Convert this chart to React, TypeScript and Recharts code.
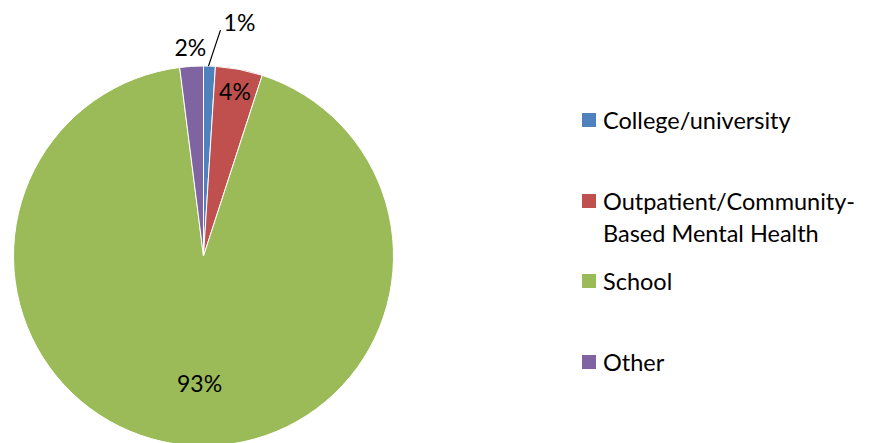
import React from "react";
import { PieChart, Pie, Cell, Legend } from "recharts";

const categories = ["College/university", "Outpatient/Community-Based Mental Health", "School", "Other"];
const legendLines = [["College/university"], ["Outpatient/Community-", "Based Mental Health"], ["School"], ["Other"]];
const values = [1, 4, 93, 2];
const labels = ["1%", "4%", "93%", "2%"];
const colors = ["#4F81BD", "#C0504D", "#9BBB59", "#8064A2"];

// label placement: radius factor + pixel offsets
const labelPlacement = [
  { rf: 1.0, dx: 30, dy: -44, line: true },
  { rf: 0.885, dx: 0, dy: 0, line: false },
  { rf: 0.67, dx: 8, dy: 0, line: false },
  { rf: 1.1, dx: 0, dy: 0, line: false },
];

const data = categories.map((name, i) => ({ name, value: values[i], label: labels[i] }));

const FONT = "Lato, 'Open Sans', sans-serif";
const RAD = Math.PI / 180;

const renderLabel = (props: any) => {
  const { cx, cy, midAngle, outerRadius, index } = props;
  const p = labelPlacement[index];
  const r = outerRadius * p.rf;
  const x0 = cx + r * Math.cos(-midAngle * RAD);
  const y0 = cy + r * Math.sin(-midAngle * RAD);
  const tx = x0 + p.dx;
  const ty = y0 + p.dy;
  return (
    <g key={`lbl-${index}`}>
      {p.line && (
        <line x1={x0 - 1} y1={y0} x2={x0 + 11} y2={y0 - 36} stroke="#000" strokeWidth={1.2} />
      )}
      <text
        x={tx}
        y={ty}
        textAnchor="middle"
        dominantBaseline="central"
        fill="#000"
        fontFamily={FONT}
        fontSize={23}
      >
        {labels[index]}
      </text>
    </g>
  );
};

const renderLegend = () => (
  <div style={{ position: "relative", width: 287, height: 300, fontFamily: FONT }}>
    {legendLines.map((lines, i) => (
      <div
        key={categories[i]}
        style={{ position: "absolute", left: 0, top: i * 80.5, display: "flex", alignItems: "flex-start" }}
      >
        <div style={{ width: 14, height: 14, background: colors[i], marginTop: 9, marginRight: 7, flex: "none" }} />
        <div style={{ fontSize: 23.5, lineHeight: "32px", color: "#000", whiteSpace: "nowrap" }}>
          {lines.map((t) => (
            <div key={t}>{t}</div>
          ))}
        </div>
      </div>
    ))}
  </div>
);

export default function App() {
  return (
    <div style={{ position: "absolute", left: 0, top: 0, width: 869, height: 443, background: "#fff" }}>
      <PieChart width={869} height={443} margin={{ top: 0, right: 0, bottom: 0, left: 0 }}>
        <Pie
          data={data}
          dataKey="value"
          nameKey="name"
          cx={203.5}
          cy={256}
          outerRadius={190}
          startAngle={90}
          endAngle={-270}
          stroke="#fff"
          strokeWidth={1}
          label={renderLabel}
          labelLine={false}
          isAnimationActive={false}
        >
          {data.map((d, i) => (
            <Cell key={d.name} fill={colors[i]} />
          ))}
        </Pie>
        <Legend
          content={renderLegend}
          wrapperStyle={{ position: "absolute", left: 582, top: 104, width: 287 }}
        />
      </PieChart>
    </div>
  );
}
